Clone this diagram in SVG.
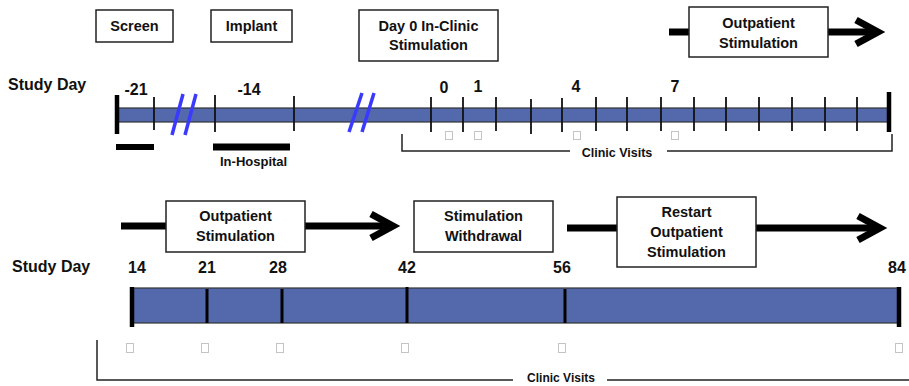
<svg xmlns="http://www.w3.org/2000/svg" width="909" height="386" viewBox="0 0 909 386">
<style>
text{font-family:"Liberation Sans",Arial,sans-serif;font-weight:bold;fill:#111}
.box{fill:#fff;stroke:#222;stroke-width:1.5}
.bt{font-size:14.5px;text-anchor:middle}
.day{font-size:16px;text-anchor:middle}
.sd{font-size:16px}
.bar{fill:#5369ab;stroke:#333;stroke-width:1.2}
.tick{stroke:#111;stroke-width:1.8}
.tk3{stroke:#000;stroke-width:3}
.end{stroke:#000;stroke-width:4.5}
.slash{stroke:#3a3aff;stroke-width:3.5}
.brk{fill:none;stroke:#222;stroke-width:1.5}
.cv{font-size:12.5px;text-anchor:middle}
.sq{fill:#fff;stroke:#c4c4c4;stroke-width:1}
.arr{fill:none;stroke:#000;stroke-width:7}
</style>
<defs>
<marker id="head" markerUnits="userSpaceOnUse" viewBox="0 0 40 34" refX="26" refY="17" markerWidth="40" markerHeight="34" orient="auto" overflow="visible">
<path d="M4,5 L26,17 L4,29" fill="none" stroke="#000" stroke-width="7" stroke-linejoin="miter"/>
</marker>
</defs>

<g id="connectors">
<line class="arr" x1="669" y1="32" x2="878" y2="32" marker-end="url(#head)"/>
<line class="arr" x1="121" y1="226" x2="393" y2="226" marker-end="url(#head)"/>
<line class="arr" x1="567" y1="228" x2="880" y2="228" marker-end="url(#head)"/>
</g>

<g id="node-screen">
<rect class="box" x="96" y="10" width="77" height="32"/>
<text class="bt" x="134.5" y="31">Screen</text>
</g>
<g id="node-implant">
<rect class="box" x="211" y="10" width="81" height="32"/>
<text class="bt" x="251.5" y="31">Implant</text>
</g>
<g id="node-day0">
<rect class="box" x="359" y="10" width="139" height="51"/>
<text class="bt" x="428.5" y="31">Day 0 In-Clinic</text>
<text class="bt" x="428.5" y="50">Stimulation</text>
</g>
<g id="node-outpatient-top">
<rect class="box" x="689" y="7" width="139" height="50"/>
<text class="bt" x="758.5" y="28">Outpatient</text>
<text class="bt" x="758.5" y="48">Stimulation</text>
</g>
<g id="node-outpatient-bottom">
<rect class="box" x="166" y="201" width="139" height="51"/>
<text class="bt" x="235.5" y="221">Outpatient</text>
<text class="bt" x="235.5" y="241">Stimulation</text>
</g>
<g id="node-withdrawal">
<rect class="box" x="414" y="201" width="139" height="51"/>
<text class="bt" x="483.5" y="221">Stimulation</text>
<text class="bt" x="483.5" y="241">Withdrawal</text>
</g>
<g id="node-restart">
<rect class="box" x="617" y="197" width="139" height="70"/>
<text class="bt" x="686.5" y="217">Restart</text>
<text class="bt" x="686.5" y="237">Outpatient</text>
<text class="bt" x="686.5" y="257">Stimulation</text>
</g>

<g id="timeline-top">
<text class="sd" x="8" y="90">Study Day</text>
<rect class="bar" x="117" y="108" width="772" height="14"/>
<g class="tick">
<line class="tick" x1="154" y1="97" x2="154" y2="130"/>
<line class="tick" x1="215" y1="95" x2="215" y2="132"/>
<line class="tick" x1="294" y1="96" x2="294" y2="131"/>
<line class="tick" x1="431" y1="97" x2="431" y2="132"/>
<line class="tick" x1="463" y1="97" x2="463" y2="132"/>
<line class="tick" x1="496" y1="97" x2="496" y2="131"/>
<line class="tick" x1="531" y1="99" x2="531" y2="134"/>
<line class="tick" x1="562" y1="98" x2="562" y2="132"/>
<line class="tick" x1="596" y1="97" x2="596" y2="131"/>
<line class="tick" x1="627" y1="97" x2="627" y2="131"/>
<line class="tick" x1="661" y1="97" x2="661" y2="131"/>
<line class="tick" x1="694" y1="97" x2="694" y2="131"/>
<line class="tick" x1="726" y1="97" x2="726" y2="131"/>
<line class="tick" x1="759" y1="97" x2="759" y2="131"/>
<line class="tick" x1="792" y1="97" x2="792" y2="131"/>
<line class="tick" x1="825" y1="97" x2="825" y2="131"/>
<line class="tick" x1="857" y1="97" x2="857" y2="131"/>
</g>
<line class="end" x1="117" y1="95" x2="117" y2="134"/>
<line class="end" x1="889" y1="92" x2="889" y2="132"/>
<line class="slash" x1="183" y1="94" x2="172" y2="135"/>
<line class="slash" x1="196" y1="94" x2="185" y2="135"/>
<line class="slash" x1="362" y1="93" x2="349" y2="132"/>
<line class="slash" x1="374" y1="93" x2="362" y2="132"/>
<text class="day" x="136" y="95">-21</text>
<text class="day" x="249" y="95">-14</text>
<text class="day" x="444" y="93">0</text>
<text class="day" x="478" y="92">1</text>
<text class="day" x="576" y="92">4</text>
<text class="day" x="675" y="92">7</text>
<rect x="116" y="144" width="38" height="6" fill="#000"/>
<rect x="213" y="143.5" width="77" height="7" fill="#000"/>
<text x="220" y="166" style="font-size:13px">In-Hospital</text>
<rect class="sq" x="445.5" y="131.5" width="7" height="8"/>
<rect class="sq" x="474.5" y="131.5" width="7" height="8"/>
<rect class="sq" x="573.5" y="131.5" width="7" height="8"/>
<rect class="sq" x="671.5" y="131.5" width="7" height="8"/>
<path class="brk" d="M402,134 V151 H570 M667,151 H892 V134"/>
<text class="cv" x="617" y="157">Clinic Visits</text>
</g>

<g id="timeline-bottom">
<text class="sd" x="12" y="272">Study Day</text>
<rect class="bar" x="132" y="288" width="767" height="35"/>
<line class="tk3" x1="207" y1="289" x2="207" y2="323"/>
<line class="tk3" x1="282" y1="289" x2="282" y2="323"/>
<line class="tk3" x1="407" y1="287" x2="407" y2="323"/>
<line class="tk3" x1="565" y1="289" x2="565" y2="323"/>
<line class="end" x1="132" y1="287" x2="132" y2="327"/>
<line class="end" x1="899" y1="287" x2="899" y2="327"/>
<text class="day" x="137" y="273">14</text>
<text class="day" x="207" y="273">21</text>
<text class="day" x="278" y="273">28</text>
<text class="day" x="407" y="273">42</text>
<text class="day" x="562" y="273">56</text>
<text class="day" x="897" y="273">84</text>
<rect class="sq" x="126.5" y="343.5" width="7" height="9"/>
<rect class="sq" x="201.5" y="343.5" width="7" height="9"/>
<rect class="sq" x="276.5" y="343.5" width="7" height="9"/>
<rect class="sq" x="401.5" y="343.5" width="7" height="9"/>
<rect class="sq" x="558.5" y="343.5" width="7" height="9"/>
<rect class="sq" x="895.5" y="343.5" width="7" height="9"/>
<path class="brk" d="M97,340 V380 H513 M607,380 H909"/>
<text class="cv" x="561" y="382" style="font-size:12px">Clinic Visits</text>
</g>
</svg>
